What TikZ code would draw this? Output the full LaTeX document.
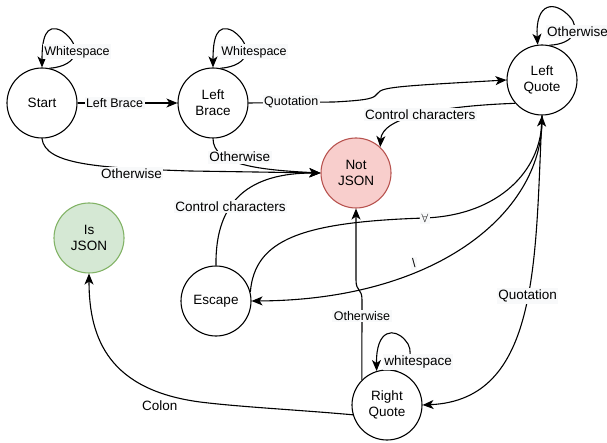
\documentclass[tikz,border=0pt]{standalone}
\usepackage{fontspec}
\setmainfont{Liberation Sans}
\usetikzlibrary{arrows.meta}
\definecolor{notfill}{HTML}{F8CECC}
\definecolor{notline}{HTML}{B85450}
\definecolor{isfill}{HTML}{D5E8D4}
\definecolor{isline}{HTML}{82B366}
\definecolor{lblbg}{HTML}{F8F9FA}

\begin{document}
\begin{tikzpicture}[x=1pt, y=-1pt, line width=1.1pt,
    state/.style={circle, draw, minimum size=70pt, inner sep=0pt, align=center,
        font=\fontsize{13.5}{16}\selectfont},
    edge/.style={-{Stealth[length=11pt,width=9pt,inset=3pt]}},
    lbl/.style={fill=lblbg, inner sep=1.5pt, font=\fontsize{13.5}{16}\selectfont},
    slbl/.style={fill=lblbg, inner sep=1.5pt, font=\fontsize{12.5}{15}\selectfont}]
    \useasboundingbox (0,0) rectangle (607,443);

    \node[state] (start) at (42,103) {Start};
    \node[state] (lbrace) at (213,103) {Left\\Brace};
    \node[state] (lquote) at (542,80) {Left\\Quote};
    \node[state, fill=notfill, draw=notline] (notjson) at (356,173) {Not\\JSON};
    \node[state, fill=isfill, draw=isline] (isjson) at (89,238) {Is\\JSON};
    \node[state] (escape) at (216,301) {Escape};
    \node[state] (rquote) at (387,405) {Right\\Quote};

    \draw[edge] (start.78) .. controls (80,66) and (82,45) .. node[slbl, pos=.55, xshift=2pt]{Whitespace} (62,31)
        .. controls (45,22) and (42,40) .. (start.north);
    \draw[edge] (lbrace.78) .. controls (251,66) and (253,45) .. node[slbl, pos=.55, xshift=8pt]{Whitespace} (233,31)
        .. controls (216,22) and (213,40) .. (lbrace.north);
    \draw[edge] (lquote.78) .. controls (575,44) and (580,28) .. node[lbl, pos=.6, xshift=3pt]{Otherwise} (570,17)
        .. controls (555,0) and (535,2) .. (lquote.97);
    \draw[edge] (rquote.78) .. controls (410,368) and (415,350) .. node[lbl, pos=.25, xshift=14pt, yshift=4pt]{whitespace} (405,340)
        .. controls (395,328) and (376,328) .. (rquote.107);

    \draw[edge] (start) -- node[slbl, pos=.37]{Left Brace} (lbrace);
    \draw[edge] (lbrace.east) -- node[slbl]{Quotation} (334,102)
        .. controls (372,100) and (374,98) .. (378,93)
        .. controls (382,87) and (400,86) .. (lquote.west);
    \draw[edge] (lquote.221) .. controls (440,106) and (382,117) .. node[lbl, pos=.5]{Control characters} (notjson.47);
    \draw[edge] (start.south) .. controls (45,165) and (100,168) .. node[lbl, pos=.76, yshift=-5pt]{Otherwise} (190,171)
        -- (notjson.west);
    \draw[edge] (lbrace.south) .. controls (213,165) and (260,170) .. node[lbl, pos=.3, xshift=15pt]{Otherwise} (notjson.west);
    \draw[edge] (escape.north) .. controls (215,200) and (250,173) .. node[lbl, pos=.38]{Control characters} (notjson.west);
    \draw[edge] (escape.15) .. controls (255,240) and (300,222) .. (425,218) node[slbl]{$\forall$}
        .. controls (500,215) and (540,170) .. (lquote.south);
    \draw[edge] (lquote.south) .. controls (545,210) and (440,300) .. node[slbl, pos=.66, yshift=9pt]{\textbackslash} (escape.east);
    \draw[edge] (lquote.south) .. controls (535,260) and (540,400) .. node[lbl, pos=.45]{Quotation} (rquote.east);
    \draw[edge] (rquote.135) -- node[slbl, pos=.8]{Otherwise} (362,300)
        .. controls (362,288) and (356,292) .. (356,280) -- (notjson.south);
    \draw[edge] (rquote.196) .. controls (300,410) and (240,407) .. (200,402)
        .. controls (110,390) and (89,340) .. node[lbl, fill=none, pos=.17, yshift=-13pt]{Colon} (isjson.south);
\end{tikzpicture}
\end{document}
